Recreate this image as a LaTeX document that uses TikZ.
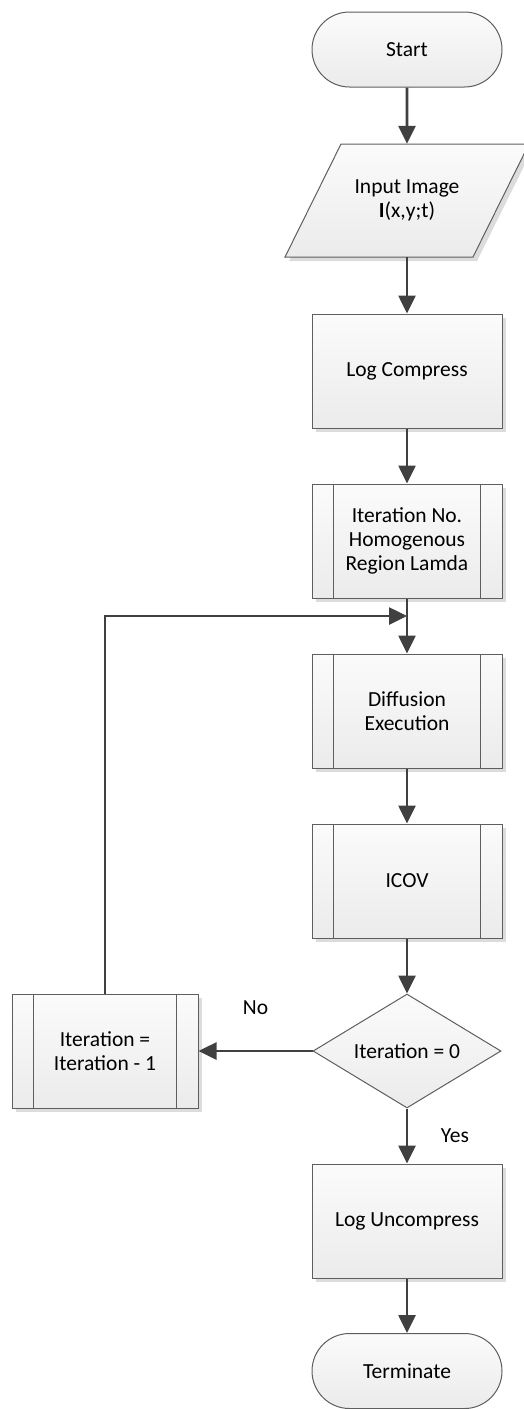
\documentclass[tikz,border=0pt]{standalone}
\usepackage{fontspec}
\setmainfont{Carlito}
\usetikzlibrary{shapes.geometric,shapes.misc,arrows.meta,shadows}
\definecolor{bord}{HTML}{5E5E5E}
\definecolor{arrc}{HTML}{404040}
\definecolor{fillT}{HTML}{FBFBFB}
\definecolor{fillB}{HTML}{EBEBEB}
\definecolor{shadc}{HTML}{DCDCDC}
\tikzset{
 txt/.style={align=center, font=\fontsize{21.5}{24}\selectfont, inner sep=0pt, text=black},
 base/.style={txt, draw=bord, line width=1pt, top color=fillT, bottom color=fillB},
 shd/.style={drop shadow={shadow xshift=4pt, shadow yshift=-4pt, fill=shadc, opacity=1}},
 termbox/.style={base, rounded rectangle, minimum width=190pt, minimum height=75pt},
 procbox/.style={base, shd, rectangle, minimum width=190pt, minimum height=114pt},
 predbox/.style={procbox, path picture={
   \draw[bord, line width=1pt]
     ([xshift=21.5pt]path picture bounding box.south west) -- ([xshift=21.5pt]path picture bounding box.north west)
     ([xshift=-21.5pt]path picture bounding box.south east) -- ([xshift=-21.5pt]path picture bounding box.north east);}},
 ioshape/.style={draw=bord, line width=1pt, top color=fillT, bottom color=fillB, shd},
 iobox/.style={txt, rectangle, minimum width=188pt, minimum height=113pt},
 decbox/.style={base, diamond, aspect=1.65, minimum width=188pt, minimum height=114pt},
 arr/.style={draw=arrc, line width=2.6pt, -{Triangle[width=17pt,length=18pt]}},
 lbl/.style={txt}
}
\begin{document}
\begin{tikzpicture}[x=1pt,y=-1pt]
\useasboundingbox (0,0) rectangle (524,1409);
\node[termbox] (start) at (407,49.5) {Start};
\path[ioshape] (285,257) -- (341,144) -- (529,144) -- (473,257) -- cycle;
\node[iobox] (input) at (407,200.5) {Input Image\\\textbf{I}(x,y;t)};
\node[procbox] (logc) at (407,371) {Log Compress};
\node[predbox] (iter) at (407,541) {Iteration No.\\Homogenous\\Region Lamda};
\node[predbox] (diff) at (407,711) {Diffusion\\Execution};
\node[predbox] (icov) at (407,881) {ICOV};
\node[decbox] (dec) at (407,1051) {Iteration = 0};
\node[predbox, minimum width=186pt] (upd) at (105,1051) {Iteration =\\Iteration - 1};
\node[procbox] (logu) at (407,1221) {Log Uncompress};
\node[termbox] (term) at (407,1371) {Terminate};
\coordinate (j) at (407,616);
\draw[arr] (start) -- (input);
\draw[arr] (input) -- (logc);
\draw[arr] (logc) -- (iter);
\draw[arr] (iter) -- (diff);
\draw[arr] (upd.north) |- (j);
\draw[arr] (diff) -- (icov);
\draw[arr] (icov) -- (dec);
\draw[arr] (dec.west) -- node[lbl, midway, yshift=43pt] {No} (upd.east);
\draw[arr] (dec.south) -- node[lbl, midway, xshift=48pt] {Yes} (logu.north);
\draw[arr] (logu) -- (term);
\end{tikzpicture}
\end{document}
